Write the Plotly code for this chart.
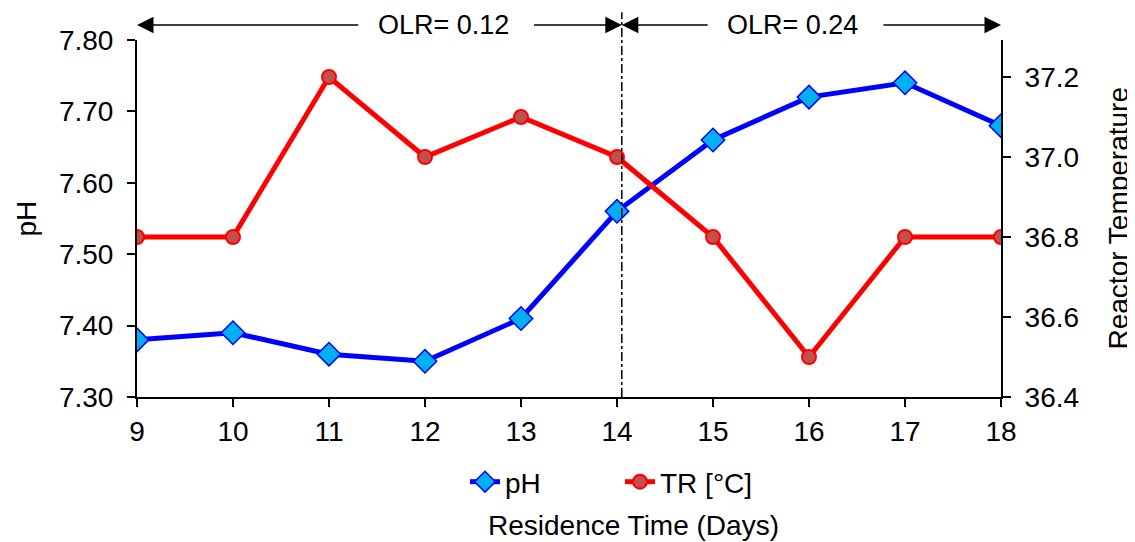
import plotly.graph_objects as go

days = [9, 10, 11, 12, 13, 14, 15, 16, 17, 18]
ph = [7.38, 7.39, 7.36, 7.35, 7.41, 7.56, 7.66, 7.72, 7.74, 7.68]
tr = [36.8, 36.8, 37.2, 37.0, 37.1, 37.0, 36.8, 36.5, 36.8, 36.8]
olr_labels = ["OLR= 0.12", "OLR= 0.24"]
olr_change_day = 14.05

FONT = "Liberation Sans, Arial, sans-serif"

fig = go.Figure()
fig.add_trace(go.Scatter(
    x=days, y=ph, name="pH", mode="lines+markers",
    line=dict(color="#0000FF", width=5),
    marker=dict(symbol="diamond", size=18, color="#00B0F0",
                line=dict(color="#0000FF", width=1.5)),
    yaxis="y"))
fig.add_trace(go.Scatter(
    x=days, y=tr, name="TR [°C]", mode="lines+markers",
    line=dict(color="#FF0000", width=5),
    marker=dict(symbol="circle", size=14, color="#C0504D",
                line=dict(color="#FF0000", width=2)),
    yaxis="y2"))

axis_common = dict(showline=True, linecolor="black", linewidth=2,
                   ticks="outside", ticklen=8, tickwidth=2, tickcolor="black",
                   showgrid=False, zeroline=False,
                   tickfont=dict(family=FONT, size=28, color="black"))

# page body has an 8px default margin; compensate so plot area sits at 137..1001 x 40..397
fig.update_layout(
    width=1127, height=534, autosize=False,
    margin=dict(l=129, r=134, t=32, b=145),
    paper_bgcolor="white", plot_bgcolor="white",
    font=dict(family=FONT, size=28, color="black"),
    xaxis=dict(range=[9, 18], dtick=1, tick0=9, **axis_common),
    yaxis=dict(range=[7.30, 7.80], dtick=0.1, tickformat=".2f",
               ticklabelstandoff=8, **axis_common),
    yaxis2=dict(range=[36.4, 37.2925], dtick=0.2, tick0=36.4, tickformat=".1f",
                overlaying="y", side="right", ticklabelstandoff=8, **axis_common),
    legend=dict(orientation="h", x=(465 - 137) / 864, y=(397 - 482) / 357,
                xanchor="left", yanchor="middle",
                font=dict(family=FONT, size=28, color="black"),
                bgcolor="rgba(0,0,0,0)", entrywidth=110),
    showlegend=True,
)

# vertical dash-dot separator
fig.add_shape(type="line", xref="x", yref="paper",
              x0=olr_change_day, x1=olr_change_day, y0=0, y1=1.078,
              line=dict(color="black", width=1.5, dash="dashdot"))

ARROW_Y = (397 - 25) / 357
arrows = [(9, 11.32), (olr_change_day, 13.12), (olr_change_day, 14.96), (18, 16.76)]
for head, tail in arrows:
    fig.add_annotation(xref="x", yref="paper", x=head, y=ARROW_Y,
                       axref="x", ax=tail, ayref="pixel", ay=0,
                       text="", showarrow=True, arrowhead=2, arrowsize=2.2,
                       arrowwidth=1.5, arrowcolor="black")

for xc, lab in zip([12.19, 15.83], olr_labels):
    fig.add_annotation(xref="x", yref="paper", x=xc, y=ARROW_Y, text=lab,
                       xanchor="center", yanchor="middle", showarrow=False,
                       font=dict(family=FONT, size=27, color="black"))

# axis titles
fig.add_annotation(xref="paper", yref="paper", x=(633 - 137) / 864, y=(397 - 525) / 357,
                   xanchor="center", yanchor="middle",
                   text="Residence Time (Days)", showarrow=False,
                   font=dict(family=FONT, size=28, color="black"))
fig.add_annotation(xref="paper", yref="paper", x=(26 - 137) / 864, y=0.5,
                   xanchor="center", yanchor="middle",
                   text="pH", textangle=-90, showarrow=False,
                   font=dict(family=FONT, size=28, color="black"))
fig.add_annotation(xref="paper", yref="paper", x=(1118 - 137) / 864, y=0.5,
                   xanchor="center", yanchor="middle",
                   text="Reactor Temperature", textangle=-90, showarrow=False,
                   font=dict(family=FONT, size=28, color="black"))

fig.write_html("out.html")
